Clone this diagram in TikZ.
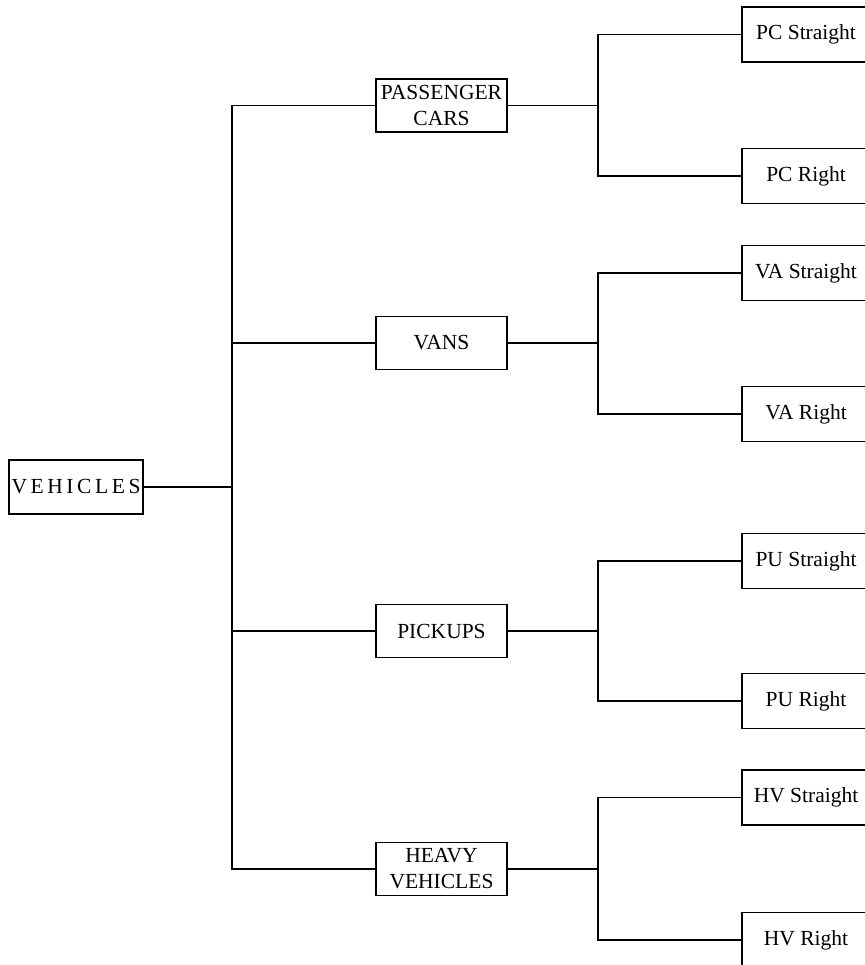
\documentclass[tikz,border=0pt]{standalone}
\usepackage{fontspec}
\setmainfont{Liberation Serif}
\usepackage{tikz}
\usetikzlibrary{positioning}

\tikzset{
  vbox/.style={draw,line width=1.5pt,inner sep=0pt,align=center,font=\fontsize{21.5}{26}\selectfont},
  rootbox/.style={vbox,minimum width=134pt,minimum height=54pt},
  midbox/.style={vbox,minimum width=131pt,minimum height=53pt},
  leafbox/.style={vbox,minimum width=128pt,minimum height=55pt},
  link/.style={line width=1.5pt}
}

\begin{document}
\begin{tikzpicture}[x=1pt,y=-1pt]
\useasboundingbox (0,0) rectangle (864,965);
\begin{scope}
\node[rootbox] (veh) at (76,487) {V\,E\,H\,I\,C\,L\,E\,S};
\node[midbox] (pc) at (441.5,105.5) {PASSENGER\\CARS};
\node[midbox] (va) at (441.5,343) {VANS};
\node[midbox] (pu) at (441.5,631) {PICKUPS};
\node[midbox] (hv) at (441.5,869) {HEAVY\\VEHICLES};
\node[leafbox] (pcS) at (806,34.5) {PC Straight};
\node[leafbox] (pcR) at (806,176) {PC Right};
\node[leafbox] (vaS) at (806,273) {VA Straight};
\node[leafbox] (vaR) at (806,414) {VA Right};
\node[leafbox] (puS) at (806,561) {PU Straight};
\node[leafbox] (puR) at (806,701) {PU Right};
\node[leafbox] (hvS) at (806,797.5) {HV Straight};
\node[leafbox] (hvR) at (806,940) {HV Right};
\draw[link] (veh.east) -- ++(88,0) coordinate (trunk);
\draw[link] (pc.west) -| (trunk);
\draw[link] (va.west) -| (trunk);
\draw[link] (pu.west) -| (trunk);
\draw[link] (hv.west) -| (trunk);
\draw[link] (pc.east) -- ++(90,0) coordinate (pcfork);
\draw[link] (pcS.west) -| (pcfork);
\draw[link] (pcR.west) -| (pcfork);
\draw[link] (va.east) -- ++(90,0) coordinate (vafork);
\draw[link] (vaS.west) -| (vafork);
\draw[link] (vaR.west) -| (vafork);
\draw[link] (pu.east) -- ++(90,0) coordinate (pufork);
\draw[link] (puS.west) -| (pufork);
\draw[link] (puR.west) -| (pufork);
\draw[link] (hv.east) -- ++(90,0) coordinate (hvfork);
\draw[link] (hvS.west) -| (hvfork);
\draw[link] (hvR.west) -| (hvfork);
\end{scope}
\end{tikzpicture}
\end{document}
